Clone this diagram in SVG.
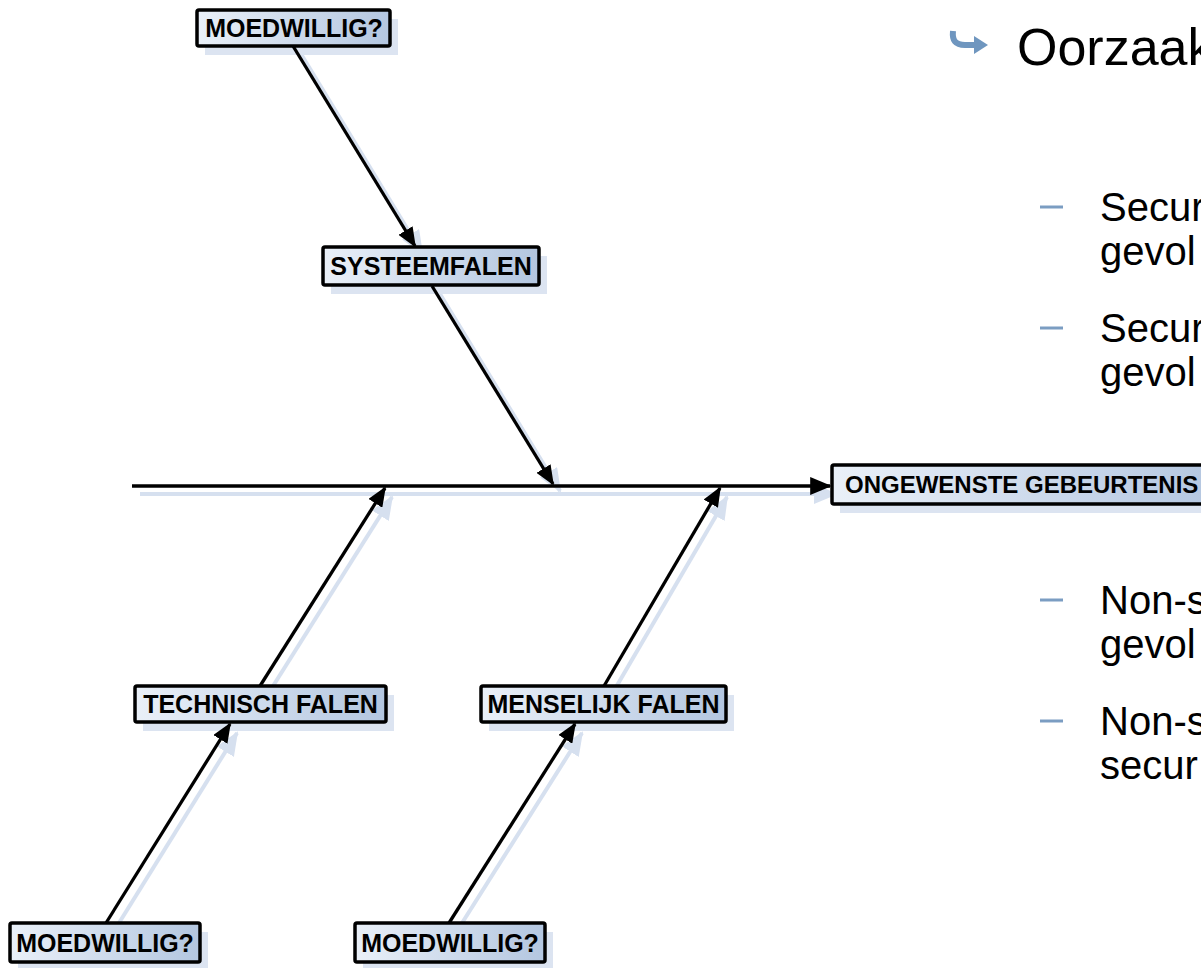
<svg xmlns="http://www.w3.org/2000/svg" width="1201" height="968" viewBox="0 0 1201 968">
<style>
.box{fill:url(#g);stroke:#000;stroke-width:3.5}
.sh{fill:#dce4f1}
.bt{font-family:"Liberation Sans",Arial,sans-serif;font-weight:bold;font-size:25px;fill:#000;text-anchor:middle}
.ln{stroke:#000;stroke-width:3.3;fill:none;marker-end:url(#ah)}
.lns{stroke:#d6e0ef;stroke-width:4;fill:none;marker-end:url(#ahs)}
.tx{font-family:"Liberation Sans",Arial,sans-serif;font-size:40px;fill:#000}
.ds{stroke:#7b9dc2;stroke-width:3}
</style>
<defs>
<linearGradient id="g" x1="0" y1="0" x2="1" y2="0">
<stop offset="0" stop-color="#eaf0f8"/>
<stop offset="1" stop-color="#b3c6e0"/>
</linearGradient>
<marker id="ah" markerWidth="6" markerHeight="5" refX="5.5" refY="2.5" orient="auto" markerUnits="strokeWidth">
<path d="M0,0 L6,2.5 L0,5 Z" fill="#000"/>
</marker>
<marker id="ahs" markerWidth="6" markerHeight="5" refX="5.5" refY="2.5" orient="auto" markerUnits="strokeWidth">
<path d="M0,0 L6,2.5 L0,5 Z" fill="#d6e0ef"/>
</marker>
</defs>

<g id="connectors-shadow" transform="translate(8,8)">
<line class="lns" x1="132" y1="486" x2="828" y2="486"/>
<line class="lns" x1="293" y1="46" x2="414" y2="245"/>
<line class="lns" x1="432" y1="286" x2="552" y2="483"/>
<line class="lns" x1="260" y1="686" x2="384" y2="489"/>
<line class="lns" x1="604" y1="686" x2="719" y2="489"/>
<line class="lns" x1="106" y1="923" x2="229" y2="725"/>
<line class="lns" x1="449" y1="923" x2="574" y2="725"/>
</g>

<g id="box-shadows">
<rect class="sh" x="205" y="19" width="193" height="36"/>
<rect class="sh" x="331" y="256" width="216" height="38"/>
<rect class="sh" x="840" y="474" width="380" height="39"/>
<rect class="sh" x="143" y="695" width="251" height="36"/>
<rect class="sh" x="489" y="695" width="245" height="36"/>
<rect class="sh" x="18" y="932" width="190" height="39"/>
<rect class="sh" x="363" y="932" width="190" height="39"/>
</g>

<g id="connectors">
<line class="ln" x1="132" y1="486" x2="830" y2="486" style="stroke-width:3.6"/>
<line class="ln" x1="293" y1="46" x2="415" y2="246"/>
<line class="ln" x1="432" y1="286" x2="553" y2="484"/>
<line class="ln" x1="260" y1="686" x2="385" y2="488"/>
<line class="ln" x1="604" y1="686" x2="720" y2="488"/>
<line class="ln" x1="106" y1="923" x2="230" y2="724"/>
<line class="ln" x1="449" y1="923" x2="575" y2="724"/>
</g>

<g id="n-moedwillig-top">
<rect class="box" x="197" y="10" width="193" height="36" rx="2"/>
<text class="bt" x="294" y="37">MOEDWILLIG?</text>
</g>
<g id="n-systeemfalen">
<rect class="box" x="323" y="247" width="216" height="38" rx="2"/>
<text class="bt" x="431" y="275">SYSTEEMFALEN</text>
</g>
<g id="n-ongewenste">
<rect class="box" x="832" y="465" width="390" height="39" rx="2"/>
<text class="bt" x="845" y="493" style="text-anchor:start;font-size:24px">ONGEWENSTE GEBEURTENIS</text>
</g>
<g id="n-technisch">
<rect class="box" x="135" y="686" width="251" height="36" rx="2"/>
<text class="bt" x="260.5" y="713">TECHNISCH FALEN</text>
</g>
<g id="n-menselijk">
<rect class="box" x="481" y="686" width="245" height="36" rx="2"/>
<text class="bt" x="603.5" y="713">MENSELIJK FALEN</text>
</g>
<g id="n-moedwillig-bl">
<rect class="box" x="10" y="923" width="190" height="39" rx="2"/>
<text class="bt" x="105" y="951.5">MOEDWILLIG?</text>
</g>
<g id="n-moedwillig-br">
<rect class="box" x="355" y="923" width="190" height="39" rx="2"/>
<text class="bt" x="450" y="951.5">MOEDWILLIG?</text>
</g>

<g id="bullets">
<path d="M953,31 C952,40 955,45 965,45 L975,45" fill="none" stroke="#6f96bf" stroke-width="6" stroke-linecap="butt"/>
<path d="M974,36 L988,45 L974,54 Z" fill="#6f96bf"/>
<text class="tx" x="1017" y="65" style="font-size:52px">Oorzaak</text>
<line class="ds" x1="1040" y1="207" x2="1063" y2="207"/>
<text class="tx" x="1100" y="221">Secur</text>
<text class="tx" x="1100" y="265">gevol</text>
<line class="ds" x1="1040" y1="328" x2="1063" y2="328"/>
<text class="tx" x="1100" y="342">Secur</text>
<text class="tx" x="1100" y="386">gevol</text>
<line class="ds" x1="1040" y1="600" x2="1063" y2="600"/>
<text class="tx" x="1100" y="614">Non-s</text>
<text class="tx" x="1100" y="658">gevol</text>
<line class="ds" x1="1040" y1="721" x2="1063" y2="721"/>
<text class="tx" x="1100" y="735">Non-s</text>
<text class="tx" x="1100" y="779">secur</text>
</g>
</svg>
